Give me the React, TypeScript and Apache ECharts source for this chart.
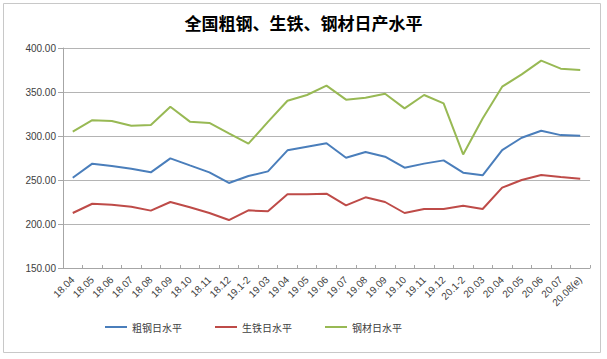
import React, { useEffect, useRef } from "react";
import * as echarts from "echarts";

const categories = [
  "18.04", "18.05", "18.06", "18.07", "18.08", "18.09", "18.10", "18.11", "18.12",
  "19.1-2", "19.03", "19.04", "19.05", "19.06", "19.07", "19.08", "19.09", "19.10", "19.11", "19.12",
  "20.1-2", "20.03", "20.04", "20.05", "20.06", "20.07", "20.08(e)",
];

const crudeSteel = [
  252.6, 268.6, 266, 262.9, 258.7, 274.6, 266.6, 258.7, 246.6,
  254.5, 259.8, 283.7, 287.9, 291.7, 275.3, 281.8, 276.5, 264, 268.6, 272.3,
  258.3, 255.3, 284, 298, 306, 301, 300.4,
];

const pigIron = [
  212.5, 223, 222, 219.7, 215.2, 225, 219, 212.5, 204.5,
  215.5, 214.4, 233.7, 233.7, 234.4, 221.2, 230.3, 225, 212.5, 217, 217,
  220.8, 217, 241.3, 250, 255.7, 253.4, 251.5,
];

const steelProducts = [
  304.9, 318, 317, 311.7, 312.5, 333.3, 316.3, 314.8, 303,
  291.3, 316, 340, 346.6, 357.2, 341.3, 343.5, 348, 331.4, 346.6, 337,
  279, 320, 356, 370, 385.6, 376.5, 375,
];

const seriesNames = ["粗钢日水平", "生铁日水平", "钢材日水平"];
const seriesColors = ["#4a7ebb", "#be4b48", "#98b954"];

export default function App() {
  const ref = useRef<HTMLDivElement>(null);
  useEffect(() => {
    if (!ref.current) return;
    const chart = echarts.init(ref.current, undefined, { renderer: "svg" });
    const data = [crudeSteel, pigIron, steelProducts];
    chart.setOption({
      animation: false,
      backgroundColor: "#ffffff",
      title: {
        text: "全国粗钢、生铁、钢材日产水平",
        left: "center",
        top: 9,
        textStyle: {
          fontFamily: "Noto Sans CJK SC",
          fontWeight: "bold",
          fontSize: 17,
          color: "#000000",
        },
      },
      graphic: [
        {
          type: "rect",
          shape: { x: 3.5, y: 3.5, width: 597, height: 349 },
          style: { fill: "none", stroke: "#c8c8c8", lineWidth: 1 },
          silent: true,
        },
      ],
      legend: {
        bottom: 22,
        left: 100,
        itemGap: 33,
        itemWidth: 22,
        itemHeight: 2,
        icon: "rect",
        textStyle: { fontFamily: "Noto Sans CJK SC", fontSize: 10, color: "#404040" },
        data: seriesNames,
      },
      grid: { left: 63, right: 17, top: 48, bottom: 91 },
      xAxis: {
        type: "category",
        data: categories,
        boundaryGap: true,
        axisLine: { show: true, lineStyle: { color: "#a6a6a6" } },
        axisTick: { show: true, inside: true, length: 3, lineStyle: { color: "#a6a6a6" } },
        axisLabel: {
          rotate: 45,
          interval: 0,
          fontFamily: "Liberation Sans",
          fontSize: 10,
          color: "#404040",
          margin: 10,
        },
      },
      yAxis: {
        type: "value",
        min: 150,
        max: 400,
        interval: 50,
        axisLine: { show: true, lineStyle: { color: "#a6a6a6" } },
        axisTick: { show: true, length: 5, lineStyle: { color: "#a6a6a6" } },
        axisLabel: {
          formatter: (v: number) => v.toFixed(2),
          fontFamily: "Liberation Sans",
          fontSize: 10,
          color: "#404040",
          margin: 7,
        },
        splitLine: { show: true, lineStyle: { color: "#b4b4b4", width: 1 } },
      },
      series: seriesNames.map((name, i) => ({
        name,
        type: "line",
        data: data[i],
        symbol: "none",
        lineStyle: { color: seriesColors[i], width: 2 },
        itemStyle: { color: seriesColors[i] },
      })),
    });
    return () => chart.dispose();
  }, []);
  return (
    <div
      ref={ref}
      style={{ position: "fixed", left: 0, top: 0, width: 607, height: 359 }}
    />
  );
}
